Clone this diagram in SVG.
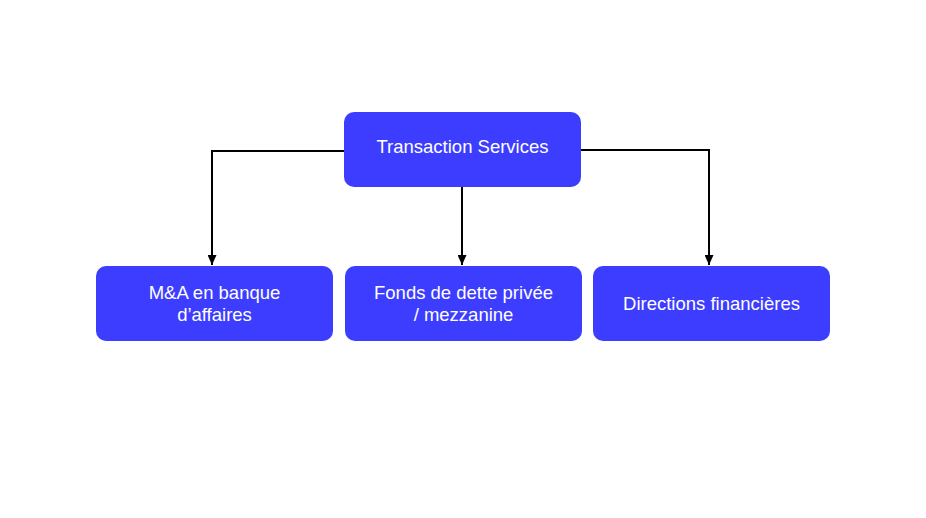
<svg xmlns="http://www.w3.org/2000/svg" width="926" height="518" viewBox="0 0 926 518">
<style>
.box{fill:#3d3dff;}
.t{font-family:"Liberation Sans",Arial,sans-serif;font-size:18.5px;fill:#ffffff;text-anchor:middle;}
.c{fill:none;stroke:#000;stroke-width:2;}
</style>
<defs>
<marker id="arr" viewBox="0 0 10 10" refX="10" refY="5" markerWidth="5" markerHeight="4.5" orient="auto" markerUnits="strokeWidth" preserveAspectRatio="none">
<path d="M0,0 L10,5 L0,10 z" fill="#000"/>
</marker>
</defs>
<rect width="926" height="518" fill="#fff"/>
<g id="connectors">
<path class="c" d="M344,151 H212 V265" marker-end="url(#arr)"/>
<path class="c" d="M462,187 V265" marker-end="url(#arr)"/>
<path class="c" d="M581,150 H709 V265" marker-end="url(#arr)"/>
</g>
<g id="n-ts">
<rect class="box" x="344" y="112" width="237" height="75" rx="10"/>
<text class="t" x="462.5" y="153">Transaction Services</text>
</g>
<g id="n-ma">
<rect class="box" x="96" y="266" width="237" height="75" rx="10"/>
<text class="t" x="214.5" y="299">M&amp;A en banque</text>
<text class="t" x="214.5" y="321">d’affaires</text>
</g>
<g id="n-fonds">
<rect class="box" x="345" y="266" width="237" height="75" rx="10"/>
<text class="t" x="463.5" y="299">Fonds de dette privée</text>
<text class="t" x="463.5" y="321">/ mezzanine</text>
</g>
<g id="n-dir">
<rect class="box" x="593" y="266" width="237" height="75" rx="10"/>
<text class="t" x="711.5" y="310">Directions financières</text>
</g>
</svg>
